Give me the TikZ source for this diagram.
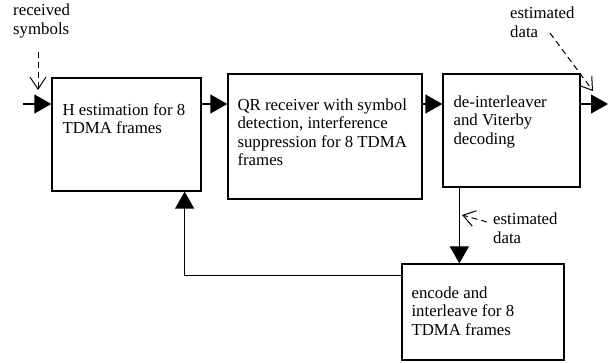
\documentclass[tikz,border=0pt]{standalone}
\usepackage{fontspec}
\setmainfont{Liberation Serif}
\usetikzlibrary{arrows.meta, positioning}
\tikzset{
	block/.style={draw, line width=1.3pt, inner sep=0pt},
	blocktext/.style={anchor=north west, inner sep=0pt, align=left},
	flow/.style={line width=1.3pt, -{Triangle[length=17pt, width=19pt]}},
	hint/.style={line width=1pt, dashed, dash pattern=on 6pt off 4pt, -{Straight Barb[length=12pt, width=16pt, line width=1pt]}}
}
\begin{document}
\begin{tikzpicture}[x=1pt, y=-1pt, font=\fontsize{16.8}{18.5}\selectfont]
	\useasboundingbox (0,0) rectangle (614,363);
	% the four blocks
	\node[block, minimum width=149pt, minimum height=113pt] (hest) at (126.5,134.5) {};
	\node[block, minimum width=194pt, minimum height=125pt] (qrrx) at (325,136.5) {};
	\node[block, minimum width=137pt, minimum height=113pt] (deint) at (511.5,130.5) {};
	\node[block, minimum width=162pt, minimum height=96pt] (enc) at (483,312) {};
	\node[blocktext] (hesttext) at ([xshift=11pt, yshift=-26pt]hest.north west) {H estimation for 8\\TDMA frames};
	\node[blocktext] (qrrxtext) at ([xshift=10pt, yshift=-25pt]qrrx.north west) {QR receiver with symbol\\detection, interference\\suppression for 8 TDMA\\frames};
	\node[blocktext] (deinttext) at ([xshift=11pt, yshift=-22pt]deint.north west) {de-interleaver\\and Viterby\\decoding};
	\node[blocktext] (enctext) at ([xshift=10pt, yshift=-23pt]enc.north west) {encode and\\interleave for 8\\TDMA frames};
	% labels
	\node[blocktext] (rxsym) at (13,4) {received\\symbols};
	\node[blocktext] (estout) at (510,7) {estimated\\data};
	\node[blocktext] (estfb) at (493,213) {estimated\\data};
	\coordinate (src) at (23,104);
	\coordinate (sink) at (608,104);
	% main chain
	\draw[flow] (src) -- (src -| hest.west);
	\draw[flow] (src -| hest.east) -- (src -| qrrx.west);
	\draw[flow] (src -| qrrx.east) -- (src -| deint.west);
	\draw[flow] (src -| deint.east) -- (sink);
	\draw[flow] ([xshift=17pt]deint.south west) -- ([xshift=17pt]deint.south west |- enc.north);
	\draw[flow] ([yshift=-12pt]enc.north west) -| ([xshift=-17pt]hest.south east);
	% dashed hints
	\draw[hint] (38,52) -- (38,90);
	\draw[hint] (550,33) -- (593,91);
	\draw[hint] (487,222) -- (462,215);
\end{tikzpicture}
\end{document}
